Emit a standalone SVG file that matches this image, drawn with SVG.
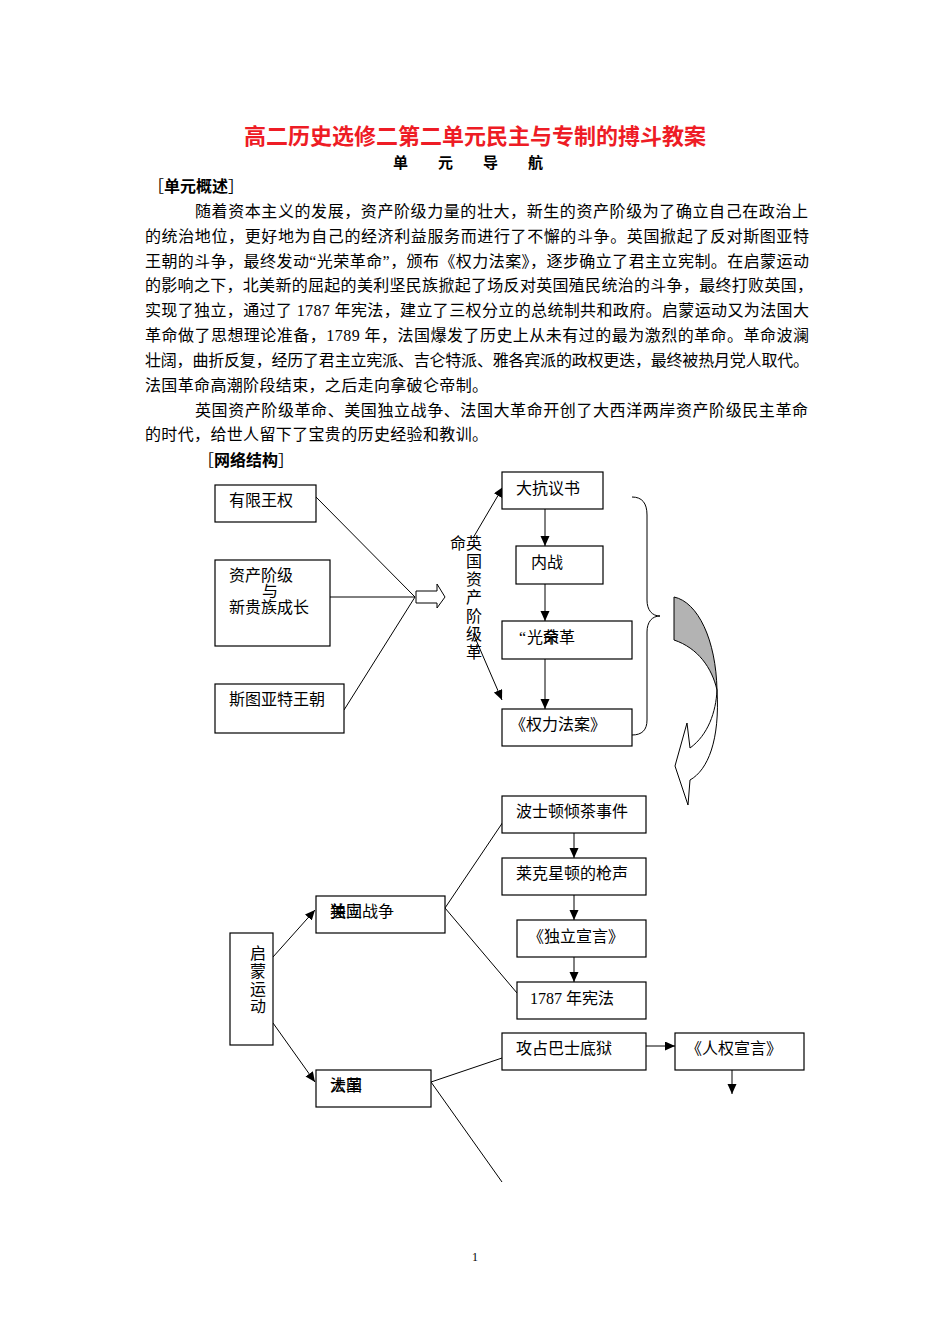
<svg xmlns="http://www.w3.org/2000/svg" width="950" height="1344" viewBox="0 0 950 1344">
<style>
.t{font-family:"Liberation Serif","Noto Sans CJK SC",serif;font-size:16px;fill:#000}
.b{fill:#fff;stroke:#000;stroke-width:1.2}
.h{font-family:"Noto Sans CJK SC",sans-serif;font-weight:bold;fill:#000}
.k{font-family:"Noto Sans CJK SC",sans-serif;font-weight:normal;fill:#000}
.c line,.c path{stroke:#000;stroke-width:1;fill:none}
</style>
<defs>
<marker id="ah" markerUnits="userSpaceOnUse" markerWidth="12" markerHeight="10" refX="10" refY="4.5" orient="auto">
<path d="M0,0 L10,4.5 L0,9 z" fill="#000"/>
</marker>
</defs>
<rect width="950" height="1344" fill="#fff"/>
<text x="475" y="144" text-anchor="middle" font-family="'Noto Sans CJK SC',sans-serif" font-weight="bold" font-size="22" fill="#ee1c25">高二历史选修二第二单元民主与专制的搏斗教案</text>
<text x="393" y="168" class="h" font-size="15" letter-spacing="30">单元导航</text>
<text x="148" y="192" font-size="16"><tspan class="k">［</tspan><tspan class="h">单元概述</tspan><tspan class="k">］</tspan></text>
<g class="t">
<text x="195" y="217" textLength="613" lengthAdjust="spacing">随着资本主义的发展，资产阶级力量的壮大，新生的资产阶级为了确立自己在政治上</text>
<text x="145" y="242" textLength="664" lengthAdjust="spacing">的统治地位，更好地为自己的经济利益服务而进行了不懈的斗争。英国掀起了反对斯图亚特</text>
<text x="145" y="267" textLength="664" lengthAdjust="spacing">王朝的斗争，最终发动“光荣革命”，颁布《权力法案》，逐步确立了君主立宪制。在启蒙运动</text>
<text x="145" y="291" textLength="668" lengthAdjust="spacing">的影响之下，北美新的屈起的美利坚民族掀起了场反对英国殖民统治的斗争，最终打败英国，</text>
<text x="145" y="316" textLength="664" lengthAdjust="spacing">实现了独立，通过了 1787 年宪法，建立了三权分立的总统制共和政府。启蒙运动又为法国大</text>
<text x="145" y="341" textLength="664" lengthAdjust="spacing">革命做了思想理论准备，1789 年，法国爆发了历史上从未有过的最为激烈的革命。革命波澜</text>
<text x="145" y="366" textLength="664" lengthAdjust="spacing">壮阔，曲折反复，经历了君主立宪派、吉仑特派、雅各宾派的政权更迭，最终被热月党人取代。</text>
<text x="145" y="391" textLength="343" lengthAdjust="spacing">法国革命高潮阶段结束，之后走向拿破仑帝制。</text>
<text x="195" y="416" textLength="613" lengthAdjust="spacing">英国资产阶级革命、美国独立战争、法国大革命开创了大西洋两岸资产阶级民主革命</text>
<text x="145" y="440" textLength="343" lengthAdjust="spacing">的时代，给世人留下了宝贵的历史经验和教训。</text>
</g>
<text x="198" y="466" font-size="16"><tspan class="k">［</tspan><tspan class="h">网络结构</tspan><tspan class="k">］</tspan></text>

<g id="connectors" class="c">
<line x1="316" y1="497" x2="415" y2="597"/>
<line x1="330" y1="597" x2="415" y2="597"/>
<line x1="344" y1="710" x2="415" y2="597"/>
<line x1="473" y1="538" x2="503" y2="487" marker-end="url(#ah)"/>
<line x1="473" y1="633" x2="502" y2="700" marker-end="url(#ah)"/>
<line x1="545" y1="509" x2="545" y2="546" marker-end="url(#ah)"/>
<line x1="545" y1="584" x2="545" y2="621" marker-end="url(#ah)"/>
<line x1="545" y1="659" x2="545" y2="709" marker-end="url(#ah)"/>
<path d="M632,497 C642,497 647,503 647,515 L647,600 C647,610 652,616 660,616 C652,616 647,622 647,632 L647,720 C647,730 642,735 632,735"/>
<line x1="574" y1="833" x2="574" y2="858" marker-end="url(#ah)"/>
<line x1="574" y1="895" x2="574" y2="920" marker-end="url(#ah)"/>
<line x1="574" y1="957" x2="574" y2="982" marker-end="url(#ah)"/>
<line x1="445" y1="908" x2="503" y2="822"/>
<line x1="445" y1="908" x2="517" y2="993"/>
<line x1="273" y1="957" x2="315" y2="910" marker-end="url(#ah)"/>
<line x1="273" y1="1023" x2="315" y2="1082" marker-end="url(#ah)"/>
<line x1="431" y1="1082" x2="502" y2="1058"/>
<line x1="431" y1="1082" x2="502" y2="1182"/>
<line x1="646" y1="1046" x2="675" y2="1046" marker-end="url(#ah)"/>
<line x1="732" y1="1070" x2="732" y2="1094" marker-end="url(#ah)"/>
</g>

<g id="block-arrow">
<path d="M416,591 L437,591 L437,584 L445,597 L437,608 L437,603 L416,603 Z" fill="#fff" stroke="#000" stroke-width="1"/>
</g>
<g id="curved-arrow" stroke="#000" stroke-width="1">
<path d="M674,597 C698,602 716,640 717,690 C712,668 698,648 674,640 Z" fill="#b3b3b3"/>
<path d="M717,690 C720,740 708,770 690,780 L688,805 L675,766 L687,723 L690,748 C708,735 716,712 717,690 Z" fill="#fff"/>
</g>

<g id="n1"><rect class="b" x="215" y="485" width="101" height="37"/><text class="t" x="229" y="506">有限王权</text></g>
<g id="n2"><rect class="b" x="215" y="560" width="115" height="86"/><text class="t" x="229" y="581">资产阶级</text><text class="t" x="262" y="597">与</text><text class="t" x="229" y="613">新贵族成长</text></g>
<g id="n3"><rect class="b" x="215" y="684" width="129" height="49"/><text class="t" x="229" y="705">斯图亚特王朝</text></g>
<g id="label-eng" class="t" text-anchor="middle">
<text x="458" y="549">命</text>
<text x="474" y="549">英</text><text x="474" y="567">国</text><text x="474" y="585">资</text><text x="474" y="603">产</text><text x="474" y="622">阶</text><text x="474" y="640">级</text><text x="474" y="658">革</text>
</g>
<g id="n4"><rect class="b" x="502" y="472" width="101" height="37"/><text class="t" x="516" y="494">大抗议书</text></g>
<g id="n5"><rect class="b" x="516" y="546" width="87" height="38"/><text class="t" x="531" y="568">内战</text></g>
<g id="n6"><rect class="b" x="502" y="621" width="130" height="38"/><text class="t" x="519" y="643">“</text><text class="t" x="527" y="643">光荣革</text><text class="t" x="543" y="643">命</text></g>
<g id="n7"><rect class="b" x="502" y="709" width="130" height="37"/><text class="t" x="510" y="730">《权力法案》</text></g>

<g id="n8"><rect class="b" x="502" y="796" width="144" height="37"/><text class="t" x="516" y="817">波士顿倾茶事件</text></g>
<g id="n9"><rect class="b" x="502" y="858" width="144" height="37"/><text class="t" x="516" y="879">莱克星顿的枪声</text></g>
<g id="n10"><rect class="b" x="517" y="920" width="129" height="37"/><text class="t" x="528" y="942">《独立宣言》</text></g>
<g id="n11"><rect class="b" x="517" y="982" width="129" height="37"/><text class="t" x="530" y="1004">1787 年宪法</text></g>
<g id="n12"><rect class="b" x="316" y="896" width="129" height="37"/><text class="t" x="330" y="917">独立战争</text><text class="t" x="330" y="917">美国</text></g>
<g id="n13"><rect class="b" x="230" y="933" width="43" height="112"/>
<g class="t" text-anchor="middle"><text x="258" y="959">启</text><text x="258" y="977">蒙</text><text x="258" y="995">运</text><text x="258" y="1012">动</text></g></g>
<g id="n14"><rect class="b" x="316" y="1070" width="115" height="37"/><text class="t" x="330" y="1091">法国</text><text class="t" x="330" y="1091">大革</text></g>
<g id="n15"><rect class="b" x="502" y="1033" width="144" height="37"/><text class="t" x="516" y="1054">攻占巴士底狱</text></g>
<g id="n16"><rect class="b" x="675" y="1033" width="129" height="37"/><text class="t" x="686" y="1054">《人权宣言》</text></g>
<text x="475" y="1261" text-anchor="middle" font-family="'Liberation Serif',serif" font-size="12">1</text>
</svg>
